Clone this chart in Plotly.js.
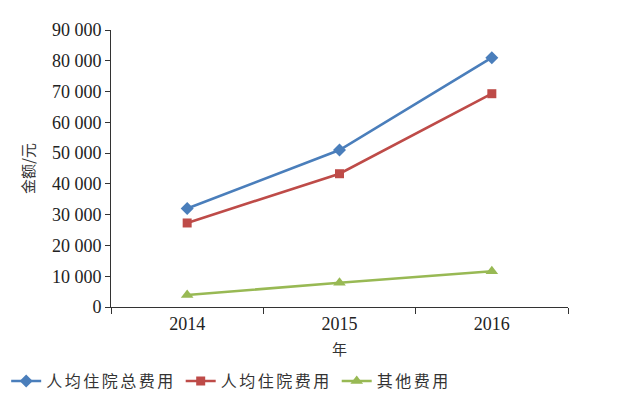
<!DOCTYPE html>
<html>
<head>
<meta charset="utf-8">
<script src="https://cdn.plot.ly/plotly-3.0.1.min.js"></script>
<style>html,body{margin:0;padding:0;background:#fff;}#chart{width:618px;height:399px;}
.legendtext{letter-spacing:2.5px;}</style>
</head>
<body>
<div id="chart"></div>
<script>
const years = ["2014", "2015", "2016"];
const totalCost = [32000, 51000, 81000];
const hospitalCost = [27300, 43300, 69300];
const otherCost = [3900, 7900, 11600];
const yTickVals = [0, 10000, 20000, 30000, 40000, 50000, 60000, 70000, 80000, 90000];
const yTickText = ["0", "10 000", "20 000", "30 000", "40 000", "50 000", "60 000", "70 000", "80 000", "90 000"];
const seriesNames = ["人均住院总费用", "人均住院费用", "其他费用"];

const cjk = '"Noto Sans CJK SC", "Noto Sans", sans-serif';
const serif = '"Liberation Serif", "DejaVu Serif", serif';

const traces = [
  {x: years, y: totalCost, name: seriesNames[0], type: 'scatter', mode: 'lines+markers',
   line: {color: '#4a7ebb', width: 2.6}, marker: {symbol: 'diamond', size: 10, color: '#4a7ebb'}},
  {x: years, y: hospitalCost, name: seriesNames[1], type: 'scatter', mode: 'lines+markers',
   line: {color: '#be4b48', width: 2.6}, marker: {symbol: 'square', size: 9, color: '#be4b48'}},
  {x: years, y: otherCost, name: seriesNames[2], type: 'scatter', mode: 'lines+markers',
   line: {color: '#98b954', width: 2.6}, marker: {symbol: 'triangle-up', size: 11, color: '#98b954'}}
];

const layout = {
  width: 618, height: 399,
  margin: {l: 111, r: 50, t: 30, b: 92},
  paper_bgcolor: '#ffffff', plot_bgcolor: '#ffffff',
  showlegend: true,
  legend: {orientation: 'h', xref: 'container', yref: 'container', x: 0.01, xanchor: 'left', y: 0.045, yanchor: 'middle',
           font: {family: cjk, size: 16, color: '#333'}, itemwidth: 30, tracegroupgap: 0},
  xaxis: {type: 'category', range: [-0.5, 2.5], tickson: 'boundaries', ticks: 'outside', ticklen: 6,
          tickcolor: '#333', showline: true, linecolor: '#333', linewidth: 1, showgrid: false, zeroline: false,
          tickfont: {family: serif, size: 18, color: '#222'},
          title: {text: '年', font: {family: cjk, size: 15, color: '#333'}, standoff: 11}},
  yaxis: {range: [0, 90000], tickvals: yTickVals, ticktext: yTickText, ticks: 'outside', ticklen: 5,
          tickcolor: '#333', showline: true, linecolor: '#333', linewidth: 1, showgrid: false, zeroline: false,
          tickfont: {family: serif, size: 18, color: '#222'},
          title: {text: '金额/元', font: {family: cjk, size: 15, color: '#333'}, standoff: 13}}
};

Plotly.newPlot('chart', traces, layout, {displayModeBar: false, staticPlot: true});
</script>
</body>
</html>
